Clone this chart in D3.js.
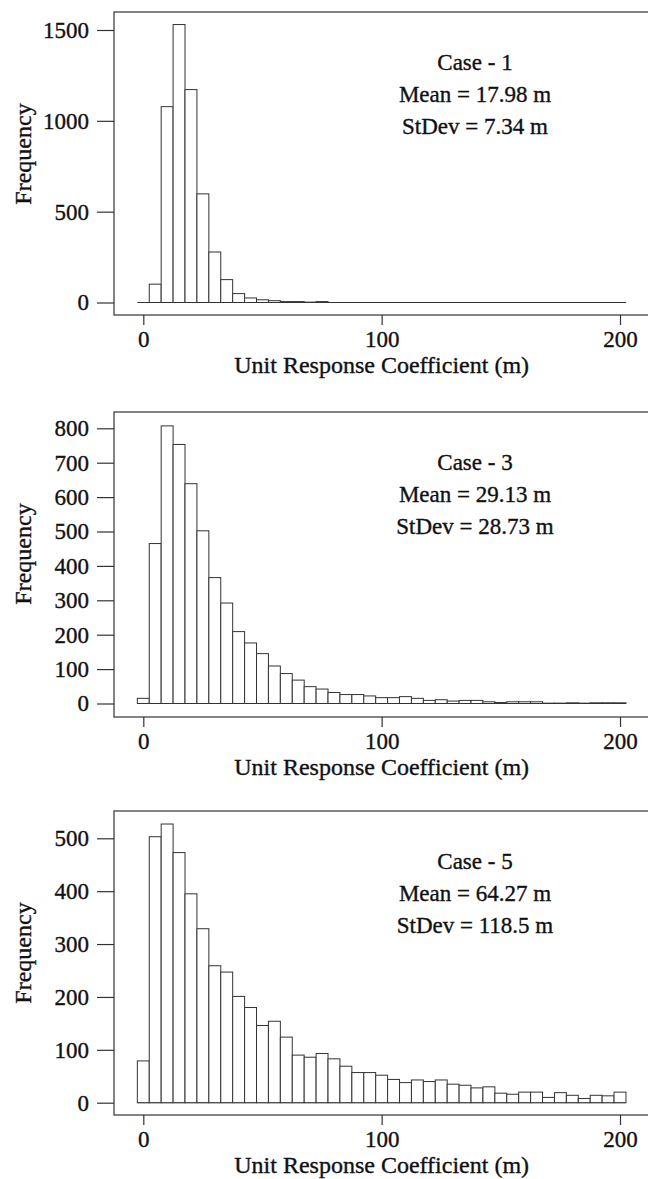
<!DOCTYPE html>
<html>
<head>
<meta charset="utf-8">
<script src="https://cdn.jsdelivr.net/npm/d3@7"></script>
<style>
  body { margin: 0; background: #fff; }
  svg { display: block; }
  text { font-family: "Liberation Serif", "Times New Roman", serif; fill: #111; stroke: #111; stroke-width: 0.35px; }
</style>
</head>
<body>
<div id="chart"></div>
<script>
// bin centres of the histograms (m)
const binCenters = [0, 5, 10, 15, 20, 25, 30, 35, 40, 45, 50, 55, 60, 65, 70, 75, 80, 85, 90, 95,
    100, 105, 110, 115, 120, 125, 130, 135, 140, 145, 150, 155, 160, 165, 170, 175, 180, 185, 190, 195, 200];
const binWidth = 5;

// frequencies
const case1Freq = [0, 101, 1078, 1530, 1172, 598, 278, 126, 49, 25, 15, 10, 5, 5, 2, 5, 0, 0, 0, 0,
    0, 0, 0, 0, 0, 0, 0, 0, 0, 0, 0, 0, 0, 0, 0, 0, 0, 0, 0, 0, 0];
const case3Freq = [15, 465, 807, 753, 639, 502, 366, 292, 209, 176, 145, 109, 87, 68, 49, 42, 32, 26, 26, 22,
    17, 17, 20, 15, 9, 11, 7, 9, 9, 5, 3, 5, 5, 5, 1, 1, 2, 1, 2, 2, 2];
const case5Freq = [79, 503, 527, 473, 395, 329, 259, 247, 201, 180, 146, 154, 124, 90, 86, 93, 83, 69, 57, 57,
    52, 44, 38, 43, 40, 43, 35, 33, 28, 30, 18, 16, 20, 20, 10, 19, 14, 8, 14, 13, 20];

const case1Ticks = [0, 500, 1000, 1500];
const case3Ticks = [0, 100, 200, 300, 400, 500, 600, 700, 800];
const case5Ticks = [0, 100, 200, 300, 400, 500];
const xTicks = [0, 100, 200];

const caseLabels = ["Case - 1", "Case - 3", "Case - 5"];
const meanLabels = ["Mean = 17.98 m", "Mean = 29.13 m", "Mean = 64.27 m"];
const sdLabels = ["StDev = 7.34 m", "StDev = 28.73 m", "StDev = 118.5 m"];

const xTitle = "Unit Response Coefficient (m)";
const yTitle = "Frequency";

const W = 648, H = 1179;
const fs = 23;

// layout of the three stacked panels
const panels = [
    { freq: case1Freq, ticks: case1Ticks, top: 12, bottom: 315, y0: 302.5, yTopPx: 30 },
    { freq: case3Freq, ticks: case3Ticks, top: 412, bottom: 717, y0: 703.5, yTopPx: 428.3 },
    { freq: case5Freq, ticks: case5Ticks, top: 811, bottom: 1115, y0: 1102.7, yTopPx: 838.3 }
];

const svg = d3.select("#chart").append("svg")
    .attr("width", W)
    .attr("height", H);

svg.append("rect").attr("width", W).attr("height", H).attr("fill", "#fff");

const frameLeft = 114;
const x = d3.scaleLinear().domain([0, 200]).range([143.3, 620]);

panels.forEach((p, i) => {
    const topTick = p.ticks[p.ticks.length - 1];
    const y = d3.scaleLinear().domain([0, topTick]).range([p.y0, p.yTopPx]);
    const g = svg.append("g");

    // frame (runs past the right edge like the original)
    g.append("rect")
        .attr("x", frameLeft)
        .attr("y", p.top)
        .attr("width", W - frameLeft + 10)
        .attr("height", p.bottom - p.top)
        .attr("fill", "none")
        .attr("stroke", "#333")
        .attr("stroke-width", 1.2);

    const bins = binCenters.map((c, k) => ({ c: c, v: p.freq[k] }));

    // baseline under all bins (empty bins show only this line)
    g.append("line")
        .attr("x1", x(binCenters[0] - binWidth / 2))
        .attr("x2", x(binCenters[binCenters.length - 1] + binWidth / 2))
        .attr("y1", y(0))
        .attr("y2", y(0))
        .attr("stroke", "#333")
        .attr("stroke-width", 1);

    g.selectAll(".bar")
        .data(bins.filter(d => d.v > 0))
        .enter().append("rect")
        .attr("class", "bar")
        .attr("x", d => x(d.c - binWidth / 2))
        .attr("y", d => y(d.v))
        .attr("width", d => x(d.c + binWidth / 2) - x(d.c - binWidth / 2))
        .attr("height", d => y(0) - y(d.v))
        .attr("fill", "#fff")
        .attr("stroke", "#333")
        .attr("stroke-width", 1);

    // y axis
    const ya = g.append("g")
        .attr("transform", `translate(${frameLeft},0)`)
        .call(d3.axisLeft(y).tickValues(p.ticks).tickFormat(d3.format("d")).tickSize(17).tickPadding(8));
    ya.select(".domain").remove();

    // x axis
    const xa = g.append("g")
        .attr("transform", `translate(0,${p.bottom})`)
        .call(d3.axisBottom(x).tickValues(xTicks).tickFormat(d3.format("d")).tickSize(10).tickPadding(6));
    xa.select(".domain").remove();

    g.selectAll(".tick line").attr("stroke", "#333").attr("stroke-width", 1.2);
    g.selectAll(".tick text")
        .attr("font-family", "Liberation Serif, Times New Roman, serif")
        .attr("font-size", fs)
        .attr("fill", "#111");

    // axis titles
    g.append("text")
        .attr("x", x(100))
        .attr("y", p.bottom + 50)
        .attr("dy", "0.35em")
        .attr("text-anchor", "middle")
        .attr("font-size", fs + 1)
        .text(xTitle);

    g.append("text")
        .attr("transform", `translate(23,${p.top + 142}) rotate(-90)`)
        .attr("dy", "0.35em")
        .attr("text-anchor", "middle")
        .attr("font-size", fs + 1)
        .text(yTitle);

    // annotation
    const notes = [caseLabels[i], meanLabels[i], sdLabels[i]];
    g.selectAll(".note")
        .data(notes)
        .enter().append("text")
        .attr("class", "note")
        .attr("x", 475)
        .attr("y", (d, k) => p.top + 50 + k * 32)
        .attr("dy", "0.35em")
        .attr("text-anchor", "middle")
        .attr("font-size", fs)
        .text(d => d);
});
</script>
</body>
</html>
